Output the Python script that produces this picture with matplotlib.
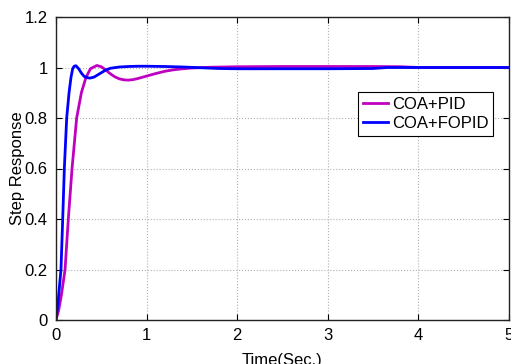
import matplotlib
matplotlib.use("Agg")
import matplotlib.pyplot as plt

plt.rcParams['font.family'] = ['Liberation Sans', 'DejaVu Sans']

# COA+PID step response
t_pid = [0, 0.03, 0.06, 0.10, 0.136, 0.177, 0.228, 0.28, 0.33, 0.38, 0.45, 0.50,
         0.55, 0.60, 0.65, 0.70, 0.75, 0.80, 0.85, 0.90, 1.0, 1.1, 1.2, 1.3, 1.4,
         1.5, 1.7, 2.0, 2.5, 3.0, 3.5, 3.8, 4.0, 5.0]
y_pid = [0, 0.04, 0.10, 0.20, 0.40, 0.60, 0.80, 0.90, 0.96, 0.995, 1.008, 1.003,
         0.99, 0.975, 0.963, 0.955, 0.951, 0.950, 0.952, 0.956, 0.966, 0.976, 0.985,
         0.991, 0.995, 0.998, 1.001, 1.003, 1.004, 1.004, 1.004, 1.003, 1.0, 1.0]

# COA+FOPID step response
t_fopid = [0, 0.02, 0.04, 0.055, 0.074, 0.092, 0.118, 0.144, 0.165, 0.184, 0.20,
           0.22, 0.25, 0.28, 0.31, 0.34, 0.375, 0.42, 0.48, 0.55, 0.60, 0.70,
           0.80, 0.90, 1.0, 1.2, 1.4, 1.6, 1.8, 2.0, 2.5, 3.0, 3.5, 3.65, 4.0, 5.0]
y_fopid = [0, 0.06, 0.14, 0.20, 0.40, 0.60, 0.80, 0.90, 0.96, 0.995, 1.005,
           1.007, 0.995, 0.978, 0.965, 0.960, 0.958, 0.962, 0.975, 0.99, 0.997, 1.002,
           1.004, 1.005, 1.005, 1.004, 1.002, 0.999, 0.996, 0.995, 0.995, 0.995, 0.996, 1.0, 1.0, 1.0]

x_ticks = [0, 1, 2, 3, 4, 5]
y_ticks = [0, 0.2, 0.4, 0.6, 0.8, 1.0, 1.2]
y_ticklabels = ["0", "0.2", "0.4", "0.6", "0.8", "1", "1.2"]

fig = plt.figure(figsize=(5.11, 3.64), dpi=100)
ax = fig.add_axes([56/511, 44/364, 453/511, 303/364])

ax.plot(t_pid, y_pid, color='#c000c0', lw=2, label='COA+PID')
ax.plot(t_fopid, y_fopid, color='#0000ff', lw=2, label='COA+FOPID')

ax.set_xlim(0, 5)
ax.set_ylim(0, 1.2)
ax.set_xticks(x_ticks)
ax.set_xticklabels([str(v) for v in x_ticks])
ax.set_yticks(y_ticks)
ax.set_yticklabels(y_ticklabels)
ax.tick_params(direction='in', top=True, right=True, labelsize=12, length=4,
               width=0.8, pad=6, colors='black')
ax.grid(True, linestyle=':', color='#b0b0b0', lw=0.8)
for s in ax.spines.values():
    s.set_linewidth(1.0)
    s.set_color('#222222')

ax.set_xlabel('Time(Sec.)', fontsize=12, labelpad=7)
ax.set_ylabel('Step Response', fontsize=12, labelpad=0)

leg = ax.legend(loc='upper right', bbox_to_anchor=(0.965, 0.752), fontsize=12,
                frameon=True, fancybox=False, edgecolor='black', framealpha=1,
                handlelength=1.5, handletextpad=0.2, borderpad=0.3,
                labelspacing=0.25, borderaxespad=0)
leg.get_frame().set_linewidth(0.8)

fig.savefig('out.png', dpi=100)
